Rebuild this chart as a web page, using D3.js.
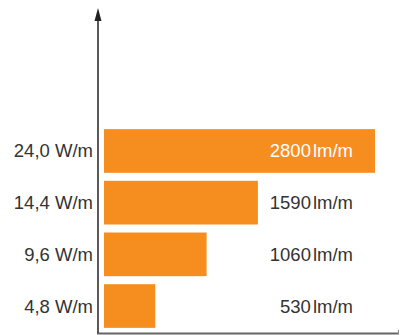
<!DOCTYPE html>
<html>
<head>
<meta charset="utf-8">
<script src="https://cdn.jsdelivr.net/npm/d3@7"></script>
<style>
  html, body { margin: 0; padding: 0; background: #fff; }
  svg { display: block; }
  text { font-family: "Liberation Sans", Arial, sans-serif; }
</style>
</head>
<body>
<svg id="chart" width="400" height="335"></svg>
<script>
// Power ratings (category axis) and luminous flux per metre
const categories = ["24,0 W/m", "14,4 W/m", "9,6 W/m", "4,8 W/m"];
const flux = [2800, 1590, 1060, 530];
const unit = "lm/m";

const svg = d3.select("#chart");

const x = d3.scaleLinear().domain([0, 2800]).range([104, 375]);
const y = d3.scaleBand().domain(categories).range([125, 332]).paddingInner(0.155).paddingOuter(0.08);

const orange = "#f68e1f";

// bars
svg.append("g").selectAll("rect")
  .data(categories)
  .join("rect")
  .attr("x", x(0))
  .attr("y", d => y(d))
  .attr("width", (d, i) => x(flux[i]) - x(0))
  .attr("height", y.bandwidth())
  .attr("fill", orange);

// category labels
svg.append("g").selectAll("text")
  .data(categories)
  .join("text")
  .attr("x", 93)
  .attr("y", d => y(d) + y.bandwidth() / 2)
  .attr("dy", "0.35em")
  .attr("text-anchor", "end")
  .attr("font-size", 18.5)
  .attr("fill", "#333")
  .text(d => d);

// value labels
const vl = svg.append("g").selectAll("text")
  .data(categories)
  .join("text")
  .attr("x", 353)
  .attr("y", d => y(d) + y.bandwidth() / 2)
  .attr("dy", "0.35em")
  .attr("text-anchor", "end")
  .attr("font-size", 18.5)
  .attr("fill", (d, i) => i === 0 ? "#fff" : "#333");
vl.append("tspan").text((d, i) => flux[i]);
vl.append("tspan").attr("dx", 2).text(unit);

// x axis baseline
svg.append("line")
  .attr("x1", 97).attr("x2", 399)
  .attr("y1", 333.5).attr("y2", 333.5)
  .attr("stroke", "#666").attr("stroke-width", 2);
svg.append("line")
  .attr("x1", 398.5).attr("x2", 398.5)
  .attr("y1", 330).attr("y2", 334)
  .attr("stroke", "#888").attr("stroke-width", 1);

// y axis with arrow
svg.append("line")
  .attr("x1", 98).attr("x2", 98)
  .attr("y1", 18).attr("y2", 333)
  .attr("stroke", "#222").attr("stroke-width", 1.5);
svg.append("path")
  .attr("d", "M98,8 L101.5,21 L94.5,21 Z")
  .attr("fill", "#222");
</script>
</body>
</html>
